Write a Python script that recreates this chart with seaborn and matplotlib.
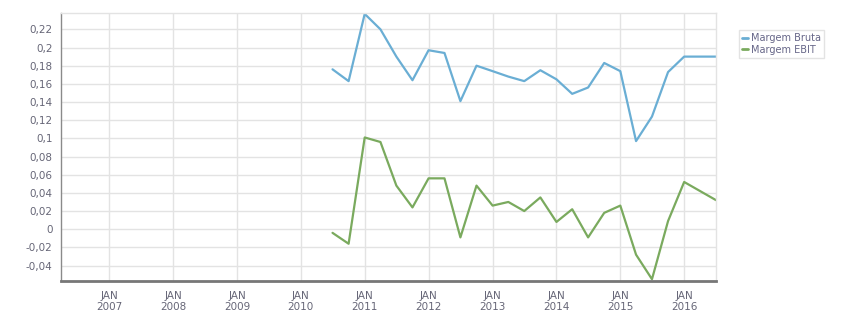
import numpy as np
import pandas as pd
import matplotlib
matplotlib.use("Agg")
import matplotlib.pyplot as plt
import matplotlib.dates as mdates
from matplotlib.ticker import FuncFormatter, MultipleLocator
from matplotlib.lines import Line2D
import seaborn as sns

quarters = pd.date_range("2010-07-01", "2016-07-01", freq="QS-JAN")
margem_bruta = [0.176, 0.163, 0.237, 0.220, 0.190, 0.164, 0.197, 0.194, 0.141,
                0.180, 0.174, 0.168, 0.163, 0.175, 0.165, 0.149, 0.156, 0.183,
                0.174, 0.097, 0.124, 0.173, 0.190, 0.190, 0.190]
margem_ebit = [-0.004, -0.016, 0.101, 0.096, 0.048, 0.024, 0.056, 0.056, -0.009,
               0.048, 0.026, 0.030, 0.020, 0.035, 0.008, 0.022, -0.009, 0.018,
               0.026, -0.028, -0.055, 0.009, 0.052, 0.042, 0.032]
series_names = ["Margem Bruta", "Margem EBIT"]
colors = ["#6aaed4", "#7aaa5e"]

df = pd.DataFrame({"date": quarters, series_names[0]: margem_bruta,
                   series_names[1]: margem_ebit})
long = df.melt(id_vars="date", var_name="serie", value_name="valor")

sns.set_style("white")
plt.rcParams['font.family'] = ['DejaVu Sans']

fig = plt.figure(figsize=(8.51, 3.13), dpi=100)
ax = fig.add_axes([61/851, 32/313, (716-61)/851, (281-13)/313])

sns.lineplot(data=long, x="date", y="valor", hue="serie", palette=colors,
             linewidth=1.6, ax=ax, legend=False)

ax.set_xlim(pd.Timestamp("2006-04-01"), pd.Timestamp("2016-07-01"))
ax.set_ylim(-0.057, 0.238)

ax.xaxis.set_major_locator(mdates.YearLocator())
ax.xaxis.set_major_formatter(mdates.DateFormatter("JAN\n%Y"))
ax.yaxis.set_major_locator(MultipleLocator(0.02))

def fmt(v, pos):
    s = f"{v:.2f}".rstrip("0").rstrip(".")
    if s in ("-0", ""):
        s = "0"
    return s.replace(".", ",")
ax.yaxis.set_major_formatter(FuncFormatter(fmt))

ax.grid(True, color="#e3e3e3", linewidth=1)
ax.set_axisbelow(True)
ax.set_xlabel("")
ax.set_ylabel("")

for s in ["top", "right"]:
    ax.spines[s].set_color("#e3e3e3")
    ax.spines[s].set_linewidth(1)
ax.spines["left"].set_color("#8a8a8a")
ax.spines["left"].set_linewidth(1)
ax.spines["bottom"].set_color("#777777")
ax.spines["bottom"].set_linewidth(2)

ax.tick_params(axis="both", labelsize=7.5, labelcolor="#666677",
               color="#888888", length=4, width=1)
ax.tick_params(axis="y", pad=2)
ax.tick_params(axis="x", pad=3)

handles = [Line2D([0], [0], color=c, linewidth=2) for c in colors]
leg = fig.legend(handles, series_names, loc="upper left",
                 bbox_to_anchor=(739/851, 1 - 30/313), fontsize=7,
                 frameon=True, fancybox=False, handlelength=0.6,
                 handletextpad=0.25, borderpad=0.35, labelspacing=0.15,
                 borderaxespad=0)
leg.get_frame().set_edgecolor("#dddddd")
leg.get_frame().set_linewidth(1)
for t in leg.get_texts():
    t.set_color("#666688")

fig.savefig("out.png", dpi=100)
